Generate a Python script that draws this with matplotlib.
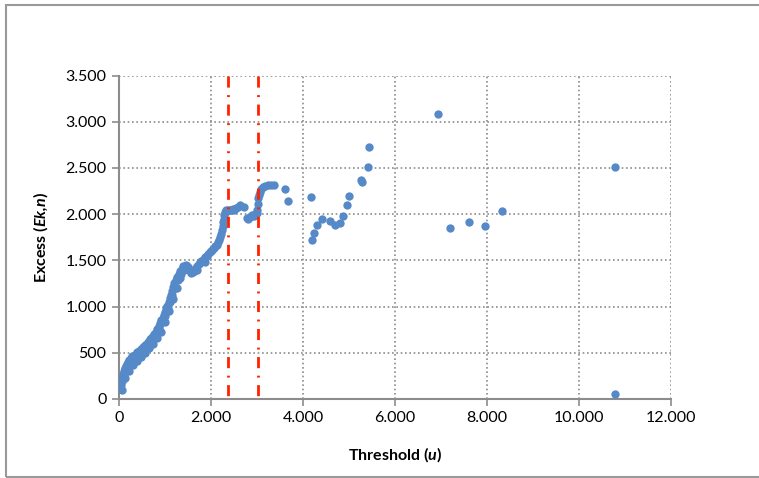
import matplotlib
matplotlib.use("Agg")
import matplotlib.pyplot as plt
from matplotlib.patches import Rectangle
from matplotlib.ticker import FuncFormatter

plt.rcParams["font.family"] = ["Lato", "DejaVu Sans"]
plt.rcParams["mathtext.fontset"] = "custom"
plt.rcParams["mathtext.rm"] = "Lato:bold"
plt.rcParams["mathtext.bf"] = "Lato:bold"
plt.rcParams["mathtext.bfit"] = "Lato:italic:bold"

# mean excess points (threshold u, excess Ek,n)
threshold = [
    10, 20, 30, 15, 40, 50, 60, 70, 80, 90, 100, 110, 120, 140, 150, 160, 180, 190,
    200, 220, 230, 250, 270, 280, 300, 320, 340, 360, 380, 400, 420, 440, 460, 480,
    500, 520, 540, 560, 580, 600, 620, 640, 660, 680, 700, 720, 740, 760, 780, 800,
    820, 840, 860, 880, 900, 920, 940, 960, 980, 1000, 1010, 1030, 1050, 1060, 1080,
    1100, 1110, 1130, 1150, 1160, 1180, 1200, 1210, 1240, 1260, 1280, 1300, 1330,
    1350, 1380, 1400, 1420, 1450, 1480, 1500, 1520, 1550, 1580, 1600, 1620, 1650,
    1680, 1700, 1730, 1760, 1790, 1820, 1850, 1880, 1910, 1940, 1970, 2000, 2030,
    2060, 2090, 2120, 2150, 2180, 2200, 2220, 2240, 2260, 2270, 2280, 2290, 2300,
    2320, 2350, 2380, 2410, 2440, 2470, 2500, 2540, 2580, 2620, 2720, 2780, 2810,
    2840, 2870, 2900, 2930, 2960, 2990, 3010, 3020, 3030, 3040, 3060, 3090, 3130,
    3180, 3230, 3300, 3380, 3600, 3680,
    # second strand of the dense band
    60, 130, 210, 300, 390, 470, 560, 650, 740, 830, 920, 1010, 1090, 1170, 1250,
    1330, 1420, 1560, 1700, 1860,
    # scattered tail
    4180, 4190, 4230, 4300, 4410, 4580, 4700, 4810, 4880, 4950, 5010, 5250, 5290,
    5420, 5430, 6930, 7190, 7610, 7950, 8320, 10780, 10780,
]
excess = [
    120, 140, 170, 200, 210, 150, 190, 240, 220, 270, 300, 260, 320, 340, 300, 360, 380, 340,
    400, 420, 380, 440, 410, 470, 450, 470, 440, 490, 470, 510, 480, 520, 500, 540,
    520, 560, 545, 580, 560, 600, 585, 620, 610, 650, 635, 670, 660, 700, 690, 730,
    760, 740, 790, 770, 820, 850, 830, 880, 910, 940, 900, 980, 1010, 970, 1050,
    1090, 1050, 1130, 1170, 1130, 1210, 1250, 1200, 1290, 1320, 1290, 1350, 1380,
    1350, 1410, 1440, 1420, 1450, 1440, 1430, 1410, 1390, 1380, 1370, 1390, 1410,
    1420, 1440, 1460, 1480, 1490, 1500, 1520, 1540, 1550, 1570, 1590, 1600, 1610,
    1630, 1650, 1670, 1700, 1720, 1750, 1790, 1830, 1870, 1910, 1950, 1990, 2020,
    2040, 2030, 2040, 2050, 2040, 2060, 2050, 2070, 2080, 2100, 2080, 1960, 1950,
    1970, 1980, 1990, 1980, 2000, 2010, 2050, 2110, 2170, 2210, 2240, 2270, 2290,
    2300, 2310, 2310, 2310, 2270, 2140,
    100, 230, 300, 370, 410, 450, 500, 550, 600, 660, 730, 830, 950, 1080, 1200,
    1310, 1400, 1360, 1400, 1480,
    2190, 1720, 1800, 1880, 1950, 1930, 1880, 1900, 1980, 2100, 2200, 2370, 2350,
    2510, 2730, 3080, 1850, 1910, 1870, 2035, 2510, 50,
]

# chosen thresholds marked with vertical lines
marked_u = [2380, 3020]

x_ticks = [0, 2000, 4000, 6000, 8000, 10000, 12000]
y_ticks = [0, 500, 1000, 1500, 2000, 2500, 3000, 3500]

fig = plt.figure(figsize=(7.59, 4.78), dpi=100)
ax = fig.add_axes([119 / 759, 79 / 478, 552 / 759, 323.5 / 478])

grid_kw = dict(color="#8c8c8c", lw=1.2, ls=(0, (1, 1.6)), zorder=1)
for yv in y_ticks[1:]:
    ax.axhline(yv, **grid_kw)
for xv in x_ticks[1:]:
    ax.axvline(xv, **grid_kw)

ax.scatter(threshold, excess, s=36, color="#5689C8", linewidths=0, zorder=3)

for u in marked_u:
    ax.plot([u, u], [3500, 0], color="#FF2200", lw=2,
            ls=(0, (4, 2.7, 0.7, 2.7)), zorder=4)

ax.set_xlim(0, 12000)
ax.set_ylim(0, 3500)
ax.set_xticks(x_ticks)
ax.set_yticks(y_ticks)
thousands = FuncFormatter(lambda v, p: f"{v:,.0f}".replace(",", "."))
ax.xaxis.set_major_formatter(thousands)
ax.yaxis.set_major_formatter(thousands)
ax.tick_params(direction="out", length=5, width=1.2, color="#8c8c8c",
               labelsize=11.5, labelcolor="black", pad=4)

for s in ("top", "right"):
    ax.spines[s].set_visible(False)
for s in ("left", "bottom"):
    ax.spines[s].set_color("#8c8c8c")
    ax.spines[s].set_linewidth(1.5)

ax.set_xlabel(r"Threshold ($\mathbfit{u}$)", fontsize=11.5, fontweight="bold", labelpad=14)
ax.set_ylabel(r"Excess ($\mathbfit{Ek{,}n}$)", fontsize=11.5, fontweight="bold", labelpad=11)

fig.add_artist(Rectangle((6 / 759, 1.5 / 478), 1.2, 471.5 / 478,
                         transform=fig.transFigure, fill=False,
                         edgecolor="#999999", lw=1.5))

fig.savefig("out.png", dpi=100)
